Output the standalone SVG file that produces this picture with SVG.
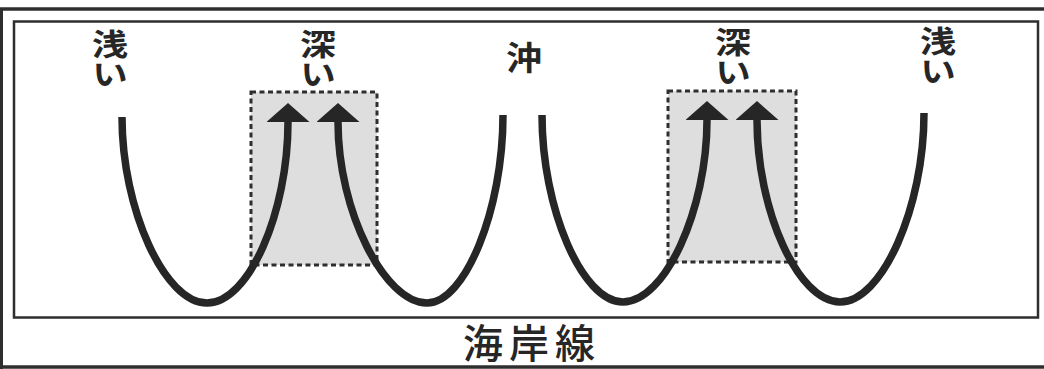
<svg xmlns="http://www.w3.org/2000/svg" width="1044" height="369" viewBox="0 0 1044 369">
<defs>
<style>
.frame{fill:none;stroke:#2e2e2e}
.box{fill:#dedede;stroke:#2e2e2e;stroke-width:3;stroke-dasharray:5 3.5}
.wave{fill:none;stroke:#262626;stroke-width:7.5;stroke-linecap:butt}
.lbl{font-family:"Noto Sans CJK JP","Noto Sans CJK SC",sans-serif;font-weight:700;font-size:36px;fill:#262626}
.vert{writing-mode:vertical-rl;text-anchor:start}
.cap{font-family:"Noto Sans CJK JP","Noto Sans CJK SC",sans-serif;font-weight:500;font-size:40px;fill:#262626;text-anchor:middle;letter-spacing:6px}
</style>
<marker id="head" viewBox="0 0 19 43" refX="0" refY="21.5" markerWidth="19" markerHeight="43" markerUnits="userSpaceOnUse" orient="auto">
<path d="M0,0 L19,21.5 L0,43 Z" fill="#262626"/>
</marker>
</defs>
<rect width="1044" height="369" fill="#ffffff"/>
<g id="frame">
<line class="frame" x1="0" y1="9" x2="1044" y2="9" stroke-width="3.5"/>
<line class="frame" x1="1.5" y1="9" x2="1.5" y2="369" stroke-width="3"/>
<line class="frame" x1="0" y1="367" x2="1044" y2="367" stroke-width="3.5"/>
<rect class="frame" x="14" y="21.5" width="1024" height="296" stroke-width="2.5"/>
</g>
<g id="box-left"><rect class="box" x="251" y="92" width="126" height="173"/></g>
<g id="box-right"><rect class="box" x="668" y="91" width="128" height="171"/></g>
<g id="connectors">
<path class="wave" d="M122,117 C122,210 165,303 207,303 C249,303 288,212 288,122" marker-end="url(#head)"/>
<path class="wave" d="M503,115 C503,210 465,303 427,303 C385,303 338,212 338,122" marker-end="url(#head)"/>
<path class="wave" d="M542,115 C542,208 582,302 623,302 C665,302 707,210 707,120" marker-end="url(#head)"/>
<path class="wave" d="M924,113 C924,208 882,302 840,302 C798,302 757,210 757,120" marker-end="url(#head)"/>
</g>
<g id="label-shallow-left" transform="translate(110,28.5) scale(1,0.83)">
<text class="lbl vert" x="0" y="0">浅い</text>
</g>
<g id="label-deep-left" transform="translate(318,29) scale(1,0.83)">
<text class="lbl vert" x="0" y="0">深い</text>
</g>
<g id="label-offshore" transform="translate(524,0) scale(1,0.9)">
<text class="lbl" x="0" y="78" text-anchor="middle">沖</text>
</g>
<g id="label-deep-right" transform="translate(733,26.5) scale(1,0.83)">
<text class="lbl vert" x="0" y="0">深い</text>
</g>
<g id="label-shallow-right" transform="translate(938,26) scale(1,0.83)">
<text class="lbl vert" x="0" y="0">浅い</text>
</g>
<g id="label-coastline">
<text class="cap" x="532" y="358">海岸線</text>
</g>
</svg>
